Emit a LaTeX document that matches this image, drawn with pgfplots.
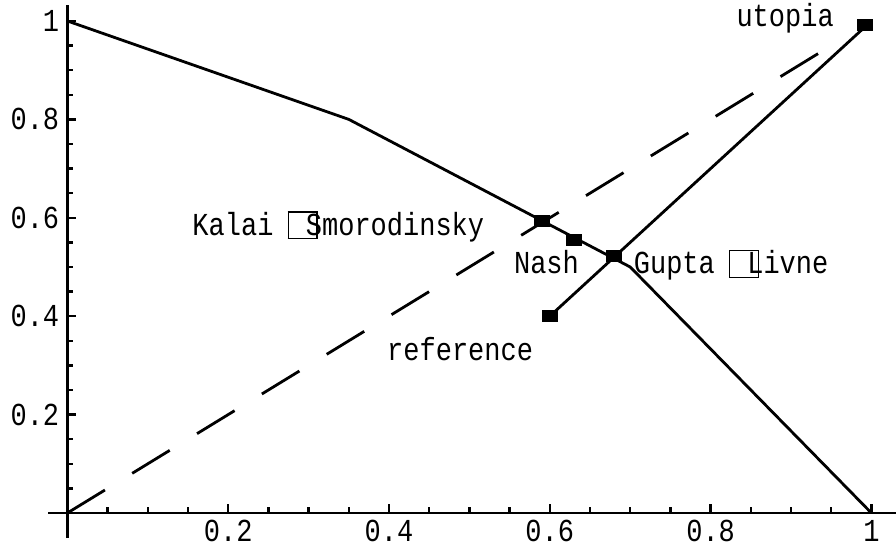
\documentclass[border=0pt]{standalone}
\usepackage{fontspec}
\usepackage{pgfplots}
\pgfplotsset{compat=1.18}
\newfontfamily\cour[FakeStretch=0.844]{Liberation Mono}
\newcommand\lab{\cour\fontsize{32}{34}\selectfont}
\newcommand\bx{\rlap{\hspace{-2pt}\raisebox{-3pt}{\setlength\fboxsep{0pt}\setlength\fboxrule{1.3pt}\fbox{\rule{0pt}{25.4pt}\hspace{27.4pt}}}}\hspace{16.2pt}}
\pgfdeclareplotmark{rect}{\pgfpathrectangle{\pgfpoint{-8pt}{-6pt}}{\pgfpoint{16pt}{12pt}}\pgfusepathqfill}
\begin{document}
\begin{tikzpicture}
\begin{axis}[
  x=804pt, y=492pt,
  xmin=-0.024, xmax=1.03, ymin=-0.051, ymax=1.033,
  axis lines=middle,
  axis line style={-, line width=2.6pt},
  clip=false,
  xtick={0.2,0.4,0.6,0.8,1}, xticklabels={0.2,0.4,0.6,0.8,1},
  ytick={0.2,0.4,0.6,0.8,1}, yticklabels={0.2,0.4,0.6,0.8,1},
  minor xtick={0.05,0.1,0.15,0.25,0.3,0.35,0.45,0.5,0.55,0.65,0.7,0.75,0.85,0.9,0.95},
  minor ytick={0.05,0.1,0.15,0.25,0.3,0.35,0.45,0.5,0.55,0.65,0.7,0.75,0.85,0.9,0.95},
  tick align=inside,
  major tick length=9pt, minor tick length=6pt,
  every tick/.style={black, line width=2.4pt},
  xticklabel style={font=\lab, inner sep=0pt, anchor=north, yshift=-7pt},
  yticklabel style={font=\lab, inner sep=0pt, anchor=east, xshift=-8pt},
]
\coordinate (O) at (axis cs:0,0);
\addplot[black, line width=2.8pt] coordinates {(0,1) (0.35,0.8) (0.7,0.5) (1,0)};
\addplot[black, line width=2.8pt, dash pattern=on 44pt off 32pt] coordinates {(0,0) (0.95,0.95)};
\addplot[black, line width=2.8pt] coordinates {(0.6,0.4) (1,1)};
\addplot[black, only marks, mark=rect] coordinates {(0.59,0.594) (0.63,0.554) (0.68,0.523) (0.6,0.401) (0.992,0.992)};
\node[anchor=base west, inner sep=0pt, font=\lab] at (axis cs:0.1553,0.565) {Kalai \bx Smorodinsky};
\node[anchor=base west, inner sep=0pt, font=\lab] at (axis cs:0.5553,0.486) {Nash};
\node[anchor=base west, inner sep=0pt, font=\lab] at (axis cs:0.7043,0.486) {Gupta \bx Livne};
\node[anchor=base west, inner sep=0pt, font=\lab] at (axis cs:0.3975,0.309) {reference};
\node[anchor=base west, inner sep=0pt, font=\lab] at (axis cs:0.832,0.988) {utopia};
\end{axis}
\pgfresetboundingbox
\path (O) ++(-67.4pt,-43pt) rectangle ++(896pt,556pt);
\end{tikzpicture}
\end{document}
